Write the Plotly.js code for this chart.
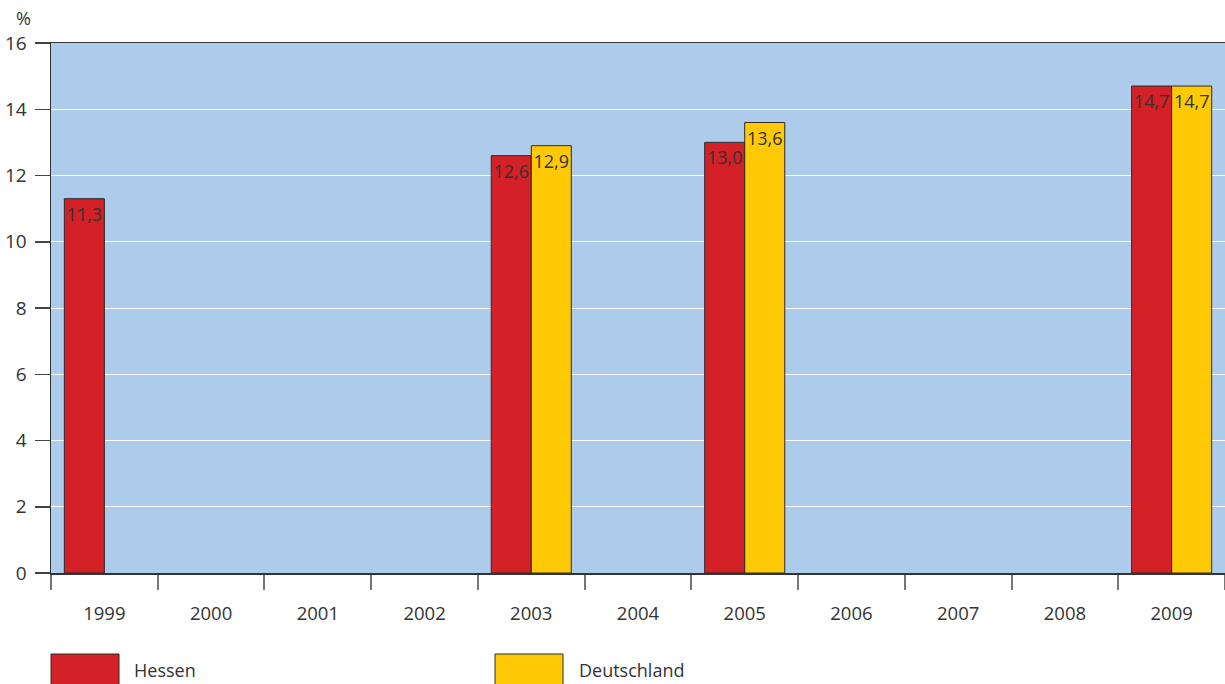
<!DOCTYPE html>
<html>
<head>
<meta charset="utf-8">
<script src="https://cdn.plot.ly/plotly-3.0.1.min.js"></script>
<style>html,body{margin:0;padding:0;background:#fff;}#chart{width:1225px;height:684px;}</style>
</head>
<body>
<div id="chart"></div>
<script>
const years = ['1999','2000','2001','2002','2003','2004','2005','2006','2007','2008','2009'];
const hessen = [11.3, null, null, null, 12.6, null, 13.0, null, null, null, 14.7];
const deutschland = [null, null, null, null, 12.9, null, 13.6, null, null, null, 14.7];
const seriesNames = ['Hessen', 'Deutschland'];
const yTicks = [0, 2, 4, 6, 8, 10, 12, 14, 16];

const fmt = v => v == null ? '' : v.toFixed(1).replace('.', ',');
const FONT = '"Open Sans", Lato, sans-serif';
const TXT = '#333333';
const RED = '#d42027';
const YEL = '#ffc906';

function barTrace(name, vals, color) {
  return {
    type: 'bar', name: name, x: years, y: vals,
    marker: {color: color, line: {color: '#2a2a2a', width: 1}},
    text: vals.map(fmt), textposition: 'inside', insidetextanchor: 'end', textangle: 0,
    constraintext: 'none', cliponaxis: false,
    textfont: {family: FONT, size: 18, color: TXT},
    hoverinfo: 'x+y'
  };
}

const data = [barTrace(seriesNames[0], hessen, RED), barTrace(seriesNames[1], deutschland, YEL)];

const ppx = px => (px - 51) / 1174;
const ppy = py => (573 - py) / 530;

const layout = {
  width: 1225, height: 684,
  margin: {l: 51, r: 0, t: 43, b: 111, pad: 0},
  paper_bgcolor: '#ffffff', plot_bgcolor: '#adcbea',
  barmode: 'group', bargap: 0.25, bargroupgap: 0,
  showlegend: false,
  separators: ',.',
  font: {family: FONT, size: 18, color: TXT},
  xaxis: {
    type: 'category', tickson: 'boundaries', ticks: 'outside', ticklen: 15,
    tickcolor: '#777777', tickwidth: 2, showline: true, linecolor: '#333333', linewidth: 1.5,
    mirror: true, showgrid: false, ticklabelstandoff: 23,
    tickfont: {family: FONT, size: 18.5, color: TXT}
  },
  yaxis: {
    range: [0, 16], tickvals: yTicks, ticktext: yTicks.map(String), ticks: 'outside', ticklen: 15,
    tickcolor: '#444444', tickwidth: 1.5, showline: true, linecolor: '#333333', linewidth: 1.5,
    showgrid: true, gridcolor: '#ffffff', gridwidth: 1, zeroline: false,
    ticklabelstandoff: 4,
    tickfont: {family: FONT, size: 19, color: TXT}
  },
  shapes: [
    {type: 'rect', xref: 'paper', yref: 'paper', x0: ppx(51), x1: ppx(119), y0: ppy(654), y1: ppy(700),
     fillcolor: RED, line: {color: '#2a2a2a', width: 1}},
    {type: 'rect', xref: 'paper', yref: 'paper', x0: ppx(495), x1: ppx(563), y0: ppy(654), y1: ppy(700),
     fillcolor: YEL, line: {color: '#2a2a2a', width: 1}}
  ],
  annotations: [
    {xref: 'paper', yref: 'paper', x: ppx(132), y: ppy(670), xanchor: 'left', yanchor: 'middle',
     text: seriesNames[0], showarrow: false, font: {family: FONT, size: 18, color: TXT}},
    {xref: 'paper', yref: 'paper', x: ppx(577), y: ppy(670), xanchor: 'left', yanchor: 'middle',
     text: seriesNames[1], showarrow: false, font: {family: FONT, size: 18, color: TXT}},
    {xref: 'paper', yref: 'paper', x: ppx(23), y: ppy(18), xanchor: 'center', yanchor: 'middle',
     text: '%', showarrow: false, font: {family: FONT, size: 18, color: TXT}}
  ]
};

Plotly.newPlot('chart', data, layout, {displayModeBar: false, staticPlot: true});
</script>
</body>
</html>
